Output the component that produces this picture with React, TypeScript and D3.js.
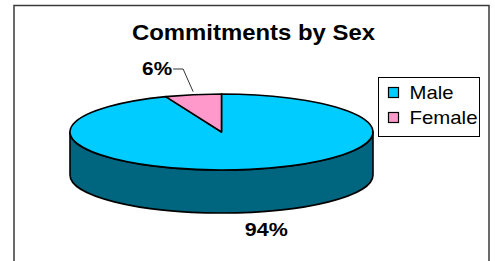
import React from 'react';
import * as d3 from 'd3';

// chart data
const categories = ['Male', 'Female'];
const shares = [94, 6];
const topColors = ['#00ccff', '#ff99cc'];
const sideColors = ['#006680', '#996080'];

const W = 495;
const H = 261;

export default function App() {
  // pie geometry (3D tilted ellipse)
  const cx = 221.5;
  const cy = 132;
  const rx = 151.5;
  const ry = 38;
  const depth = 43;

  const pie = d3.pie<number>().sort(null).value(d => d);
  const arcs = pie(shares);

  // angle measured clockwise from 12 o'clock
  const pt = (a: number, dy = 0): [number, number] => [
    cx + rx * Math.sin(a),
    cy - ry * Math.cos(a) + dy,
  ];

  const slicePath = (a0: number, a1: number) => {
    const [x0, y0] = pt(a0);
    const [x1, y1] = pt(a1);
    const large = a1 - a0 > Math.PI ? 1 : 0;
    return `M${cx},${cy}L${x0},${y0}A${rx},${ry} 0 ${large} 1 ${x1},${y1}Z`;
  };

  // front wall, visible between 90° and 270°
  const wallPath = (a0: number, a1: number) => {
    const s = Math.max(a0, Math.PI / 2);
    const e = Math.min(a1, (3 * Math.PI) / 2);
    if (e <= s) return null;
    const [x0, y0] = pt(s);
    const [x1, y1] = pt(e);
    const [x2, y2] = pt(e, depth);
    const [x3, y3] = pt(s, depth);
    const large = e - s > Math.PI ? 1 : 0;
    return `M${x0},${y0}A${rx},${ry} 0 ${large} 1 ${x1},${y1}L${x2},${y2}A${rx},${ry} 0 ${large} 0 ${x3},${y3}Z`;
  };

  const mid = (a: d3.PieArcDatum<number>) => (a.startAngle + a.endAngle) / 2;
  const femaleAnchor = pt(mid(arcs[1]));
  const maleAnchor = pt(mid(arcs[0]), depth);

  const legendWidths = [44, 68];

  return (
    <svg
      width={W}
      height={H}
      style={{ position: 'absolute', left: 0, top: 0, background: '#fff' }}
      fontFamily="'Liberation Sans', Arial, sans-serif"
    >
      {/* chart frame */}
      <path d={`M14,${H + 2}V5.5H489V${H + 2}`} fill="none" stroke="#3a3a3a" strokeWidth={1.5} />

      <text
        x={132}
        y={40}
        fontSize={21.5}
        fontWeight="bold"
        fill="#000"
        textLength={243}
        lengthAdjust="spacingAndGlyphs"
      >
        Commitments by Sex
      </text>

      {/* side walls */}
      {arcs.map((a, i) => {
        const d = wallPath(a.startAngle, a.endAngle);
        return d ? (
          <path key={'w' + i} d={d} fill={sideColors[i]} stroke="#000" strokeWidth={1.6} strokeLinejoin="round" />
        ) : null;
      })}

      {/* top faces */}
      {arcs.map((a, i) => (
        <path
          key={'t' + i}
          d={slicePath(a.startAngle, a.endAngle)}
          fill={topColors[i]}
          stroke="#000"
          strokeWidth={1.6}
          strokeLinejoin="round"
        />
      ))}

      {/* data labels */}
      <polyline
        points={`${femaleAnchor[0]},${femaleAnchor[1] - 3} ${femaleAnchor[0] - 10},${69} ${femaleAnchor[0] - 20},${69}`}
        fill="none"
        stroke="#000"
        strokeWidth={0.8}
      />
      <text
        x={femaleAnchor[0] - 51}
        y={74.5}
        fontSize={19}
        fontWeight="bold"
        textLength={30}
        lengthAdjust="spacingAndGlyphs"
      >
        {shares[1]}%
      </text>
      <text
        x={maleAnchor[0] - 5}
        y={236}
        fontSize={19}
        fontWeight="bold"
        textLength={43}
        lengthAdjust="spacingAndGlyphs"
      >
        {shares[0]}%
      </text>

      {/* legend */}
      <rect x={378.5} y={77.5} width={101} height={59} fill="#fff" stroke="#000" strokeWidth={1} />
      {categories.map((c, i) => (
        <g key={c} transform={`translate(388,${87 + i * 25})`}>
          <rect x={0.5} y={0.5} width={10} height={10} fill={topColors[i]} stroke="#000" strokeWidth={1.2} />
          <text x={21.5} y={11.5} fontSize={18.5} fill="#000" textLength={legendWidths[i]} lengthAdjust="spacingAndGlyphs">
            {c}
          </text>
        </g>
      ))}
    </svg>
  );
}
